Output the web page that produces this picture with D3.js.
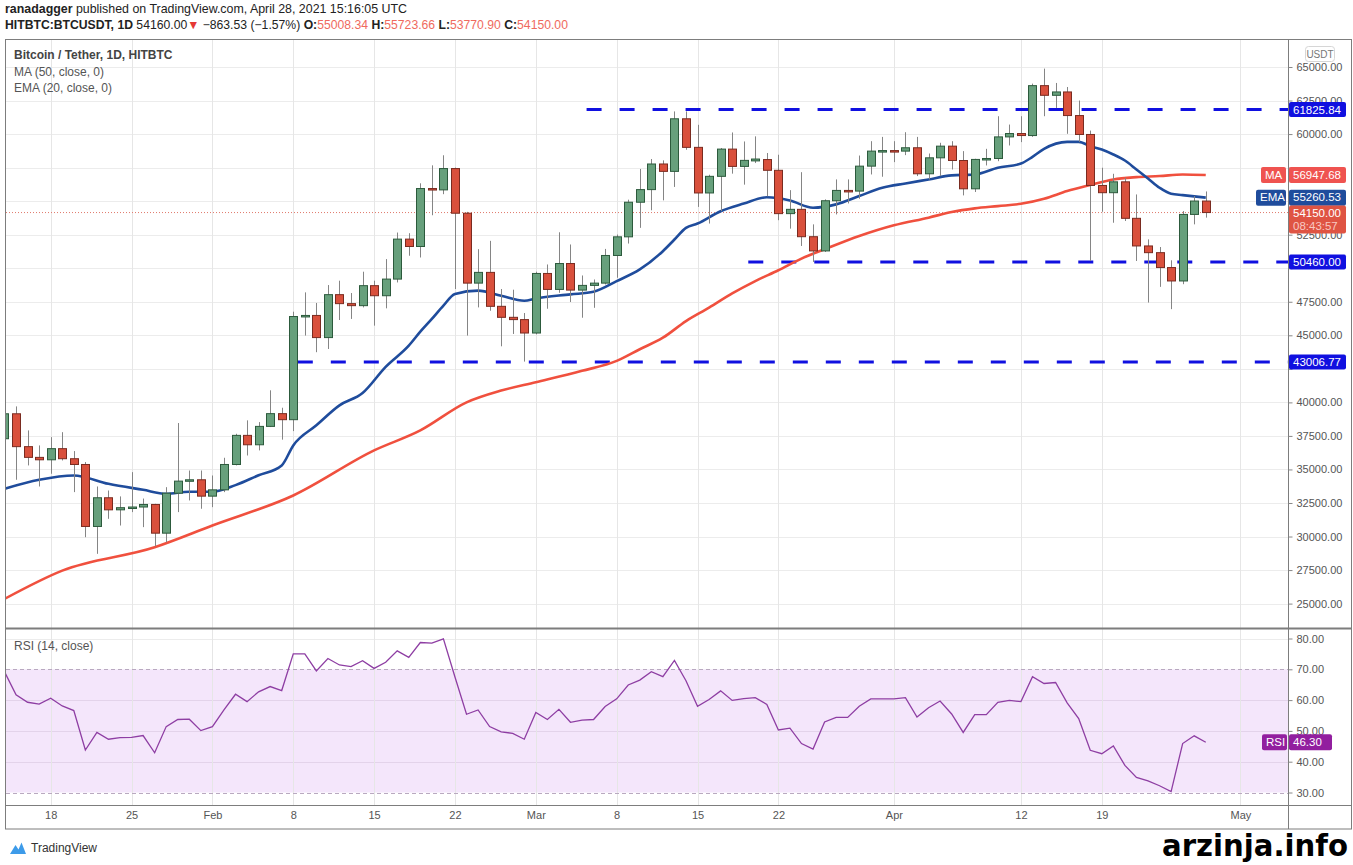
<!DOCTYPE html>
<html>
<head>
<meta charset="utf-8">
<script src="https://cdn.jsdelivr.net/npm/d3@7"></script>
<style>
body { margin: 0; background: #fff; }
text { font-family: "Liberation Sans", Arial, sans-serif; }
</style>
</head>
<body>
<script>
const width = 1353;
const height = 865;

// daily candles, first one is Jan 14 2021
const firstDay = "2021-01-14";
const opens = [37290, 39150, 36700, 35900, 35720, 36550, 35800, 35370, 30750, 32890, 31990, 32150, 32200, 32390, 30250, 33230, 34130, 34230,
  33010, 33480, 35370, 37540, 36840, 38210, 39160, 38710, 46400, 46480, 44830, 48030, 47360, 47210, 48700, 47950, 49190, 52170, 51620, 55940, 55840, 57430, 54100, 48890, 49690, 47160, 46340, 46170,
  45170, 49610, 48420, 50350, 48370, 48720, 48890, 50950, 52340, 54920, 55860, 57770, 57220, 61140, 59010, 55610, 56850, 58880, 57590, 58000, 58100, 57300, 54070, 54390, 52350, 51290, 55030, 55800, 55750, 57610, 58730,
  58770, 58730, 58980, 57040, 58230, 59100, 58030, 55920, 58110, 58180, 59790, 60040, 59890, 63610, 62890, 63140, 61380, 59970, 56170, 55630, 56440, 53720, 51660, 51160, 50050, 49050, 54010, 55008.34];
const highs = [40000, 39700, 37910, 36790, 37410, 37780, 36370, 35550, 33730, 33430, 32990, 34800, 32830, 32440, 33680, 38460, 34920, 34920,
  34550, 35870, 37660, 38660, 38530, 40900, 39600, 46760, 48200, 47410, 48745, 49070, 48150, 49740, 49070, 50680, 52660, 52610, 56330, 57670, 58420, 57500, 54200, 51420, 52040, 48450, 48400, 46660,
  49740, 50280, 52680, 51770, 49460, 49160, 51440, 52510, 55110, 57400, 58140, 58040, 61690, 61690, 60690, 56970, 58960, 60120, 59450, 59830, 58590, 58460, 55820, 57160, 53270, 55130, 56620, 56620, 58400, 59470, 59790,
  59470, 60140, 59790, 58550, 59350, 59470, 58730, 58160, 58900, 61330, 60710, 61330, 63760, 64880, 63810, 63510, 62500, 60260, 57490, 57040, 56740, 55500, 52150, 51580, 50590, 54260, 55380, 55723.66];
const lows = [36700, 34230, 35300, 33730, 34680, 35670, 33310, 29950, 28710, 31320, 30820, 31820, 30700, 29270, 29570, 31820, 32690, 32070,
  32190, 33310, 35300, 36040, 36420, 38160, 37220, 37860, 44980, 43740, 43980, 46140, 46220, 47080, 45720, 47010, 48940, 50930, 50800, 53950, 55520, 48450, 44980, 47080, 46830, 44180, 45100, 43040,
  45070, 46980, 48170, 47480, 46310, 47050, 48790, 49290, 51840, 53010, 54320, 55060, 56060, 58830, 54570, 53330, 54250, 57050, 56230, 57840, 55360, 53580, 52950, 51660, 50470, 51210, 54010, 54830, 55180, 56990, 56820,
  57910, 58430, 56870, 56620, 56870, 57360, 55430, 55680, 57660, 57980, 59150, 59400, 59790, 61330, 61950, 60020, 59420, 50540, 54210, 53390, 53520, 50540, 47440, 48610, 46950, 48810, 53270, 53770.90];
const closes = [39150, 36700, 35900, 35720, 36550, 35800, 35370, 30750, 32890, 31990, 32150, 32200, 32390, 30250, 33230, 34130, 34230, 33010,
  33480, 35370, 37540, 36840, 38210, 39160, 38710, 46400, 46480, 44830, 48030, 47360, 47210, 48700, 47950, 49190, 52170, 51620, 55940, 55840, 57430, 54100, 48890, 49690, 47160, 46340, 46170, 45170,
  49610, 48420, 50350, 48370, 48720, 48890, 50950, 52340, 54920, 55860, 57770, 57220, 61140, 59010, 55610, 56850, 58880, 57590, 58040, 58140, 57300, 54070, 54390, 52350, 51290, 55030, 55800, 55750, 57610, 58730, 58770,
  58730, 58980, 57040, 58230, 59100, 58030, 55920, 58110, 58180, 59790, 60040, 59890, 63610, 62890, 63140, 61380, 59970, 56170, 55630, 56440, 53720, 51660, 51160, 50050, 49050, 54010, 55008.34, 54150];

const rsiValues = [69.2, 61.7, 59.3, 58.7, 60.6, 58.1, 56.6, 43.8, 49.5, 47.3, 47.8, 47.9, 48.5, 42.9, 51.4, 53.7, 53.8, 50.1,
  51.4, 56.8, 61.9, 59.5, 62.7, 64.4, 63.1, 75.0, 75.0, 69.5, 73.5, 71.4, 70.9, 72.8, 70.3, 72.3, 76.0, 73.9, 78.7, 78.5, 79.9, 67.5, 55.4, 56.8, 51.4, 49.7, 49.2, 47.3,
  56.0, 53.7, 57.0, 52.8, 53.5, 53.7, 57.9, 60.4, 64.9, 66.5, 69.2, 67.6, 72.9, 66.3, 58.0, 60.2, 63.0, 59.9, 60.5, 60.8, 58.6, 50.3, 50.9, 45.9, 44.1, 52.9, 54.4, 54.4, 58.0, 60.4, 60.4,
  60.4, 60.8, 54.5, 57.5, 59.7, 55.5, 49.5, 55.3, 55.3, 59.3, 59.9, 59.5, 67.6, 65.4, 65.7, 59.1, 54.0, 43.7, 42.6, 45.1, 38.8, 34.9, 33.8, 32.2, 30.3, 45.9, 48.4, 46.3];

// moving averages
const maDates = ["2021-01-14", "2021-01-19", "2021-01-27", "2021-02-01", "2021-02-08", "2021-02-15", "2021-02-19", "2021-02-23", "2021-02-26", "2021-03-01",
  "2021-03-05", "2021-03-08", "2021-03-10", "2021-03-12", "2021-03-14", "2021-03-16", "2021-03-18", "2021-03-20", "2021-03-22", "2021-03-24", "2021-03-26", "2021-03-29",
  "2021-04-01", "2021-04-04", "2021-04-06", "2021-04-08", "2021-04-10", "2021-04-12", "2021-04-14", "2021-04-16", "2021-04-18", "2021-04-20", "2021-04-22", "2021-04-24", "2021-04-26", "2021-04-28"];
const maValues = [25350, 27460, 29200, 30820, 33060, 36420, 37910, 40000, 40880, 41500,
  42350, 43090, 43960, 44820, 46060, 47060, 48120, 49040, 49850, 50720, 51410, 52400,
  53200, 53770, 54190, 54460, 54630, 54800, 55180, 55750, 56200, 56620, 56790, 56870, 56990, 56947.68];

const emaDates = ["2021-01-14", "2021-01-17", "2021-01-20", "2021-01-23", "2021-01-26", "2021-01-28", "2021-01-30", "2021-02-01", "2021-02-03", "2021-02-05", "2021-02-07",
  "2021-02-08", "2021-02-10", "2021-02-12", "2021-02-14", "2021-02-16", "2021-02-18", "2021-02-19", "2021-02-20", "2021-02-21", "2021-02-22", "2021-02-24", "2021-02-26", "2021-02-28",
  "2021-03-01", "2021-03-04", "2021-03-06", "2021-03-08", "2021-03-10", "2021-03-12", "2021-03-13", "2021-03-14", "2021-03-15", "2021-03-17", "2021-03-19", "2021-03-21", "2021-03-23", "2021-03-25", "2021-03-27", "2021-03-29", "2021-03-31",
  "2021-04-02", "2021-04-04", "2021-04-06", "2021-04-08", "2021-04-10", "2021-04-12", "2021-04-13", "2021-04-14", "2021-04-16", "2021-04-17", "2021-04-18", "2021-04-19", "2021-04-20", "2021-04-21", "2021-04-22", "2021-04-23", "2021-04-24", "2021-04-25", "2021-04-26", "2021-04-28"];
const emaValues = [33560, 34230, 34550, 33930, 33480, 33190, 33340, 33340, 33830, 34570, 35300,
  36790, 38290, 39780, 40700, 42650, 44230, 45270, 46220, 47210, 48080, 48330, 47950, 47580,
  47750, 48050, 48250, 49040, 49910, 51270, 52140, 53010, 53330, 54250, 54820, 55290, 55050, 54510, 54760, 55380, 56000,
  56320, 56620, 56920, 56990, 57490, 57800, 58300, 58900, 59420, 59420, 59100, 58850, 58480, 58030, 57360, 56690, 56000, 55550, 55450, 55260.53];

const levels = [61825.84, 50460.00, 43006.77];
const levelStarts = ["2021-03-06", "2021-03-20", "2021-02-09"];

const tickDates = ["2021-01-18", "2021-01-25", "2021-02-01", "2021-02-08", "2021-02-15", "2021-02-22", "2021-03-01", "2021-03-08", "2021-03-15", "2021-03-22", "2021-04-01", "2021-04-12", "2021-04-19", "2021-05-01"];
const tickLabels = ["18", "25", "Feb", "8", "15", "22", "Mar", "8", "15", "22", "Apr", "12", "19", "May"];
const priceTicks = [25000, 27500, 30000, 32500, 35000, 37500, 40000, 42500, 45000, 47500, 50000, 52500, 55000, 57500, 60000, 62500, 65000];
const rsiTicks = [30, 40, 50, 60, 70, 80];

// layout
const left = 6, right = 1288, outerRight = 1352;
const mainTop = 40, mainBottom = 628, rsiTop = 629, rsiBottom = 805, axisBottom = 829;

const parse = d3.utcParse("%Y-%m-%d");
const days = d3.utcDay.range(parse(firstDay), d3.utcDay.offset(parse(firstDay), closes.length));
const candles = days.map((d, i) => ({date: d, o: opens[i], h: highs[i], l: lows[i], c: closes[i], rsi: rsiValues[i]}));

const x = d3.scaleUtc()
	.domain([parse("2021-01-18"), parse("2021-04-19")])
	.range([50.7, 1101.8]);

const y = d3.scaleLinear()
	.domain([25000, 65000])
	.range([603.6, 67]);

const yr = d3.scaleLinear()
	.domain([30, 80])
	.range([792.5, 638.5]);

const svg = d3.select("body")
	.append("svg")
	.attr("width", width)
	.attr("height", height)
	.style("display", "block");

svg.append("rect").attr("width", width).attr("height", height).attr("fill", "#fff");

const defs = svg.append("defs");
defs.append("clipPath").attr("id", "clipMain")
	.append("rect").attr("x", left).attr("y", mainTop).attr("width", right - left).attr("height", mainBottom - mainTop);
defs.append("clipPath").attr("id", "clipRsi")
	.append("rect").attr("x", left).attr("y", rsiTop).attr("width", right - left).attr("height", rsiBottom - rsiTop);

// rsi band
svg.append("rect")
	.attr("x", left).attr("width", right - left)
	.attr("y", yr(70)).attr("height", yr(30) - yr(70))
	.attr("fill", "#f4e6fb");

// grid
const grid = svg.append("g").attr("stroke", "#ececec").attr("stroke-width", 1);
grid.selectAll(".hg")
	.data(priceTicks)
	.enter()
	.append("line")
	.attr("x1", left).attr("x2", right)
	.attr("y1", d => Math.round(y(d)) + 0.5).attr("y2", d => Math.round(y(d)) + 0.5);

grid.selectAll(".rg")
	.data([40, 50, 60, 80])
	.enter()
	.append("line")
	.attr("x1", left).attr("x2", right)
	.attr("y1", d => Math.round(yr(d)) + 0.5).attr("y2", d => Math.round(yr(d)) + 0.5)
	.attr("stroke", d => d === 80 ? "#ececec" : "#e3d3ea");

grid.selectAll(".vg")
	.data(tickDates)
	.enter()
	.append("line")
	.attr("x1", d => Math.round(x(parse(d))) + 0.5).attr("x2", d => Math.round(x(parse(d))) + 0.5)
	.attr("y1", mainTop).attr("y2", rsiBottom)
	.attr("stroke", "#e6e6e6");

svg.selectAll(".band")
	.data([70, 30])
	.enter()
	.append("line")
	.attr("x1", left).attr("x2", right)
	.attr("y1", d => Math.round(yr(d)) + 0.5).attr("y2", d => Math.round(yr(d)) + 0.5)
	.attr("stroke", "#b9a9c0")
	.attr("stroke-dasharray", "4,3");

// main pane
const main = svg.append("g").attr("clip-path", "url(#clipMain)");

// last price dotted line
main.append("line")
	.attr("x1", left).attr("x2", right)
	.attr("y1", y(54150)).attr("y2", y(54150))
	.attr("stroke", "#e0796c")
	.attr("stroke-width", 1)
	.attr("stroke-dasharray", "1,2");

// horizontal levels
main.selectAll(".level")
	.data(levels)
	.enter()
	.append("line")
	.attr("x1", (d, i) => x(parse(levelStarts[i])) - 7)
	.attr("x2", right)
	.attr("y1", d => y(d)).attr("y2", d => y(d))
	.attr("stroke", "#1010e0")
	.attr("stroke-width", 3)
	.attr("stroke-dasharray", "15,18");

const lineGen = d3.line()
	.x(d => x(d[0]))
	.y(d => y(d[1]))
	.curve(d3.curveMonotoneX);

main.append("path")
	.attr("d", lineGen(maDates.map((d, i) => [parse(d), maValues[i]])))
	.attr("fill", "none")
	.attr("stroke", "#f0503e")
	.attr("stroke-width", 2.6);

main.append("path")
	.attr("d", lineGen(emaDates.map((d, i) => [parse(d), emaValues[i]])))
	.attr("fill", "none")
	.attr("stroke", "#1f4c9c")
	.attr("stroke-width", 2.6);

// candles
const bodyW = 8;
main.selectAll(".wick")
	.data(candles)
	.enter()
	.append("line")
	.attr("x1", d => Math.round(x(d.date)) + 0.5)
	.attr("x2", d => Math.round(x(d.date)) + 0.5)
	.attr("y1", d => y(d.h))
	.attr("y2", d => y(d.l))
	.attr("stroke", "#858585")
	.attr("stroke-width", 1);

main.selectAll(".body")
	.data(candles)
	.enter()
	.append("rect")
	.attr("x", d => Math.round(x(d.date)) - bodyW / 2 + 0.5)
	.attr("width", bodyW)
	.attr("y", d => y(Math.max(d.o, d.c)))
	.attr("height", d => Math.max(1.5, Math.abs(y(d.o) - y(d.c))))
	.attr("fill", d => d.c >= d.o ? "#67a07c" : "#d9503c")
	.attr("stroke", d => d.c >= d.o ? "#2c5a3c" : "#7a2b20")
	.attr("stroke-width", 1);

// rsi line
const rsiLine = d3.line()
	.x(d => x(d.date))
	.y(d => yr(d.rsi));

svg.append("g").attr("clip-path", "url(#clipRsi)")
	.append("path")
	.attr("d", rsiLine(candles))
	.attr("fill", "none")
	.attr("stroke", "#8e3ea3")
	.attr("stroke-width", 1.3);

// frame
const frame = svg.append("g").attr("stroke", "#7d7d7d").attr("fill", "none");
frame.append("rect").attr("x", left - 0.5).attr("y", 39.5).attr("width", outerRight - left).attr("height", axisBottom - 39.5);
frame.append("line").attr("x1", right + 0.5).attr("x2", right + 0.5).attr("y1", 39.5).attr("y2", axisBottom);
frame.append("line").attr("x1", left).attr("x2", outerRight).attr("y1", mainBottom + 0.5).attr("y2", mainBottom + 0.5).attr("stroke-width", 2);
frame.append("line").attr("x1", left).attr("x2", outerRight).attr("y1", rsiBottom + 0.5).attr("y2", rsiBottom + 0.5);

// price tags sitting on the axis; tick labels under them are hidden like in TradingView
const tagPrices = [61825.84, 56947.68, 55260.53, 54150, 50460, 43006.77];
const hidden = d => tagPrices.some(p => Math.abs(y(p) - y(d)) < 9);

const priceAxis = svg.append("g")
	.attr("transform", `translate(${right + 0.5},0)`)
	.call(d3.axisRight(y).tickValues(priceTicks).tickFormat(d3.format(".2f")).tickSize(4).tickPadding(4));
priceAxis.selectAll(".tick text").filter(hidden).remove();

const rsiAxis = svg.append("g")
	.attr("transform", `translate(${right + 0.5},0)`)
	.call(d3.axisRight(yr).tickValues(rsiTicks).tickFormat(d3.format(".2f")).tickSize(4).tickPadding(4));
const timeAxis = svg.append("g")
	.attr("transform", `translate(0,${rsiBottom})`)
	.call(d3.axisBottom(x).tickValues(tickDates.map(parse)).tickFormat((d, i) => tickLabels[i]).tickSize(0).tickPadding(6));

[priceAxis, rsiAxis, timeAxis].forEach(a => {
	a.select(".domain").remove();
	a.selectAll("line").attr("stroke", "#888");
	a.selectAll("text").attr("fill", "#555").style("font-size", "11px").style("font-family", "Liberation Sans, Arial, sans-serif");
});

// right side labels
function tag(x0, w, yc, h, bg, lines, fg) {
	const g = svg.append("g");
	g.append("rect").attr("x", x0).attr("y", yc - h / 2).attr("width", w).attr("height", h).attr("rx", 2).attr("fill", bg);
	lines.forEach((t, i) => {
		g.append("text")
			.attr("x", x0 + 4)
			.attr("y", yc - h / 2 + 11.5 + i * 13)
			.attr("fill", fg[i] || fg[0])
			.style("font-size", "11.5px")
			.text(t);
	});
}

tag(1289, 57, y(61825.84), 15, "#1010e0", ["61825.84"], ["#fff"]);
tag(1289, 57, y(50460), 15, "#1010e0", ["50460.00"], ["#fff"]);
tag(1289, 57, y(43006.77), 15, "#1010e0", ["43006.77"], ["#fff"]);
tag(1261, 25, y(56947.68), 16, "#ef5350", ["MA"], ["#fff"]);
tag(1289, 57, y(56947.68), 16, "#ef5350", ["56947.68"], ["#fff"]);
tag(1256, 30, y(55260.53), 16, "#1f4c9c", ["EMA"], ["#fff"]);
tag(1289, 57, y(55260.53), 16, "#1f4c9c", ["55260.53"], ["#fff"]);
tag(1289, 57, y(54150) + 7, 28, "#df5443", ["54150.00", "08:43:57"], ["#fff", "#f8c9c2"]);
tag(1262, 25, yr(46.3), 16, "#921f9f", ["RSI"], ["#fff"]);
tag(1289, 43, yr(46.3), 16, "#921f9f", ["46.30"], ["#fff"]);

// USDT box
svg.append("rect").attr("x", 1305.5).attr("y", 46.5).attr("width", 29).attr("height", 15).attr("rx", 3)
	.attr("fill", "#fff").attr("stroke", "#d6d6d6");
svg.append("text").attr("x", 1320).attr("y", 58).attr("text-anchor", "middle")
	.attr("fill", "#777").style("font-size", "10px").text("USDT");

// legends
svg.append("text").attr("x", 14).attr("y", 59).attr("fill", "#444")
	.style("font-size", "12px").style("font-weight", "bold").text("Bitcoin / Tether, 1D, HITBTC");
svg.append("text").attr("x", 14).attr("y", 76).attr("fill", "#555")
	.style("font-size", "12px").text("MA (50, close, 0)");
svg.append("text").attr("x", 14).attr("y", 92).attr("fill", "#555")
	.style("font-size", "12px").text("EMA (20, close, 0)");
svg.append("text").attr("x", 14).attr("y", 650).attr("fill", "#555")
	.style("font-size", "12px").text("RSI (14, close)");

// header
const h1 = svg.append("text").attr("x", 5).attr("y", 13).attr("fill", "#222").style("font-size", "12.4px");
h1.append("tspan").style("font-weight", "bold").text("ranadagger");
h1.append("tspan").text(" published on TradingView.com, April 28, 2021 15:16:05 UTC");

const red = "#ef6a5e";
const h2 = svg.append("text").attr("x", 5).attr("y", 29).attr("fill", "#222").style("font-size", "12.2px");
[["HITBTC:BTCUSDT, 1D ", "bold", "#222"], ["54160.00", "normal", "#222"], ["\u25BC", "normal", "#e53935"],
 [" \u2212863.53 (\u22121.57%) ", "normal", "#222"], ["O:", "bold", "#222"], ["55008.34", "normal", red],
 [" H:", "bold", "#222"], ["55723.66", "normal", red], [" L:", "bold", "#222"], ["53770.90", "normal", red],
 [" C:", "bold", "#222"], ["54150.00", "normal", red]].forEach(p => {
	h2.append("tspan").style("font-weight", p[1]).attr("fill", p[2]).text(p[0]);
});

// footer
svg.append("path")
	.attr("d", "M10,854 L15.5,845 L18.5,849.5 L21.5,842.5 L26,854 Z")
	.attr("fill", "#3d9be9");
svg.append("text").attr("x", 31).attr("y", 852).attr("fill", "#333")
	.style("font-size", "12px").text("TradingView");
svg.append("text").attr("x", 1348).attr("y", 856).attr("text-anchor", "end")
	.attr("fill", "#000")
	.attr("textLength", 186).attr("lengthAdjust", "spacingAndGlyphs")
	.style("font-size", "30px").style("font-weight", "bold")
	.style("font-family", "'Liberation Sans Narrow', 'DejaVu Sans Condensed', sans-serif")
	.text("arzinja.info");
</script>
</body>
</html>
